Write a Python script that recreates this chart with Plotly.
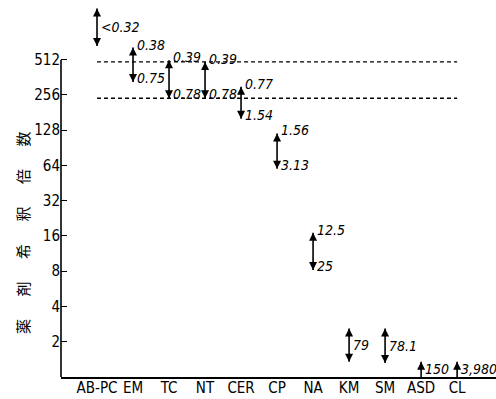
import math
import plotly.graph_objects as go

# Drugs along the x axis
drugs = ["AB-PC", "EM", "TC", "NT", "CER", "CP", "NA", "KM", "SM", "ASD", "CL"]

# Dilution range (upper / lower end) for each drug
upper = [1400, 650, 505, 490, 300, 120, 17, 2.6, 2.6, 1.35, 1.35]
lower = [670, 330, 240, 240, 160, 60, 8.2, 1.35, 1.32, 1, 1]
double_head = [True, True, True, True, True, True, True, True, True, False, False]

# Concentration labels beside the arrows
top_labels = ["", "0.38", "0.39", "0.39", "0.77", "1.56", "12.5", "", "", "", ""]
bottom_labels = ["", "0.75", "0.78", "0.78", "1.54", "3.13", "25", "", "", "", ""]
mid_labels = ["<0.32", "", "", "", "", "", "", "79", "78.1", "150", "3,980"]

# Reference dilution levels (dashed lines)
ref_levels = [490, 240]

# Y axis ticks
tick_vals = [2, 4, 8, 16, 32, 64, 128, 256, 512]
tick_text = [str(v) for v in tick_vals]

NARROW = "DejaVu Sans Condensed, Liberation Sans Narrow, sans-serif"

fig = go.Figure()

# dashed reference lines
for lvl in ref_levels:
    fig.add_trace(go.Scatter(
        x=[drugs[0], drugs[-1]], y=[lvl, lvl], mode="lines",
        line=dict(color="black", width=1.4, dash="4px,3px"),
        hoverinfo="skip", showlegend=False))

# arrow shafts
xs, ys = [], []
for d, hi, lo in zip(drugs, upper, lower):
    xs += [d, d, None]
    ys += [lo, hi, None]
fig.add_trace(go.Scatter(x=xs, y=ys, mode="lines",
                         line=dict(color="black", width=1.6),
                         hoverinfo="skip", showlegend=False))

# arrow heads
hx, hy, hs = [], [], []
for d, hi, lo, dbl in zip(drugs, upper, lower, double_head):
    hx.append(d); hy.append(hi); hs.append("arrow-up")
    if dbl:
        hx.append(d); hy.append(lo); hs.append("arrow-down")
fig.add_trace(go.Scatter(x=hx, y=hy, mode="markers",
                         marker=dict(symbol=hs, size=8, color="black",
                                     line=dict(width=0)),
                         hoverinfo="skip", showlegend=False))

label_font = dict(family=NARROW, size=14, color="black")
annotations = []
for d, hi, lo, t, b, m in zip(drugs, upper, lower, top_labels, bottom_labels, mid_labels):
    if t:
        annotations.append(dict(x=d, y=math.log10(hi), text="<i>%s</i>" % t,
                                showarrow=False, xanchor="left", yanchor="middle",
                                xshift=2, yshift=3, font=label_font))
    if b:
        annotations.append(dict(x=d, y=math.log10(lo), text="<i>%s</i>" % b,
                                showarrow=False, xanchor="left", yanchor="middle",
                                xshift=2, yshift=4, font=label_font))
    if m:
        annotations.append(dict(x=d, y=math.log10(math.sqrt(hi * lo)),
                                text="<i>%s</i>" % m,
                                showarrow=False, xanchor="left", yanchor="middle",
                                xshift=2, font=label_font))

# vertical axis title, spaced out characters
sp = "\u3000\u2002"
annotations.append(dict(
    xref="paper", yref="paper", x=0, y=0.387, xshift=-39,
    text=sp.join("薬剤希釈倍数"), textangle=-90, showarrow=False,
    xanchor="center", yanchor="middle",
    font=dict(family="Noto Sans CJK JP", size=15, color="black")))

fig.update_layout(
    width=496, height=399,
    margin=dict(l=61, r=0, t=5, b=22),
    paper_bgcolor="white", plot_bgcolor="white",
    annotations=annotations,
    # y axis line runs only from the bottom up to the 512 tick
    shapes=[dict(type="line", xref="paper", yref="y", x0=0, x1=0,
                 y0=1, y1=512, line=dict(color="black", width=1.6))],
    xaxis=dict(type="category", categoryorder="array", categoryarray=drugs,
               range=[-1, 11.08], showline=True, linewidth=2,
               linecolor="black", ticks="", showgrid=False, zeroline=False,
               tickangle=0, automargin=False, ticklabelstandoff=-4,
               tickfont=dict(family=NARROW, size=15, color="black")),
    yaxis=dict(type="log", range=[0, 10.55 * math.log10(2)],
               tickvals=tick_vals, ticktext=tick_text,
               ticks="inside", ticklen=6, tickwidth=1.4, tickcolor="black",
               showline=False, showgrid=False, zeroline=False,
               automargin=False,
               tickfont=dict(family=NARROW, size=15, color="black")),
)

fig.write_html("out.html")
